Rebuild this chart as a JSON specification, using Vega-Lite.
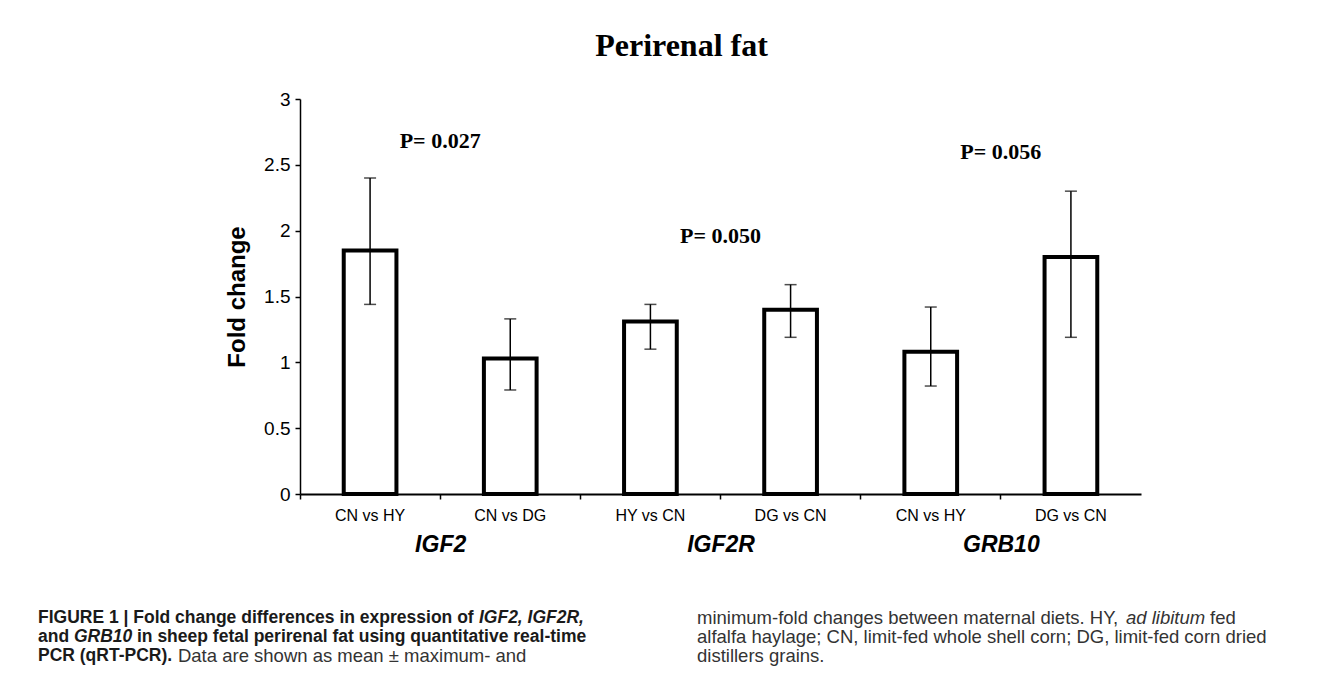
{
  "$schema": "https://vega.github.io/schema/vega-lite/v6.json",
  "autosize": {"type": "none"},
  "width": 841,
  "height": 395,
  "padding": {"left": 300, "top": 99, "right": 203, "bottom": 180},
  "background": "white",
  "config": {"view": {"stroke": null}, "font": "Liberation Sans"},
  "title": {
    "text": "Perirenal fat",
    "font": "Liberation Serif",
    "fontSize": 32,
    "fontWeight": "bold",
    "color": "black",
    "anchor": "middle",
    "frame": "group",
    "dx": -39,
    "baseline": "alphabetic",
    "offset": 2
  },
  "datasets": {
    "bars": [
      {"key": "IGF2: CN vs HY", "gene": "IGF2", "comparison": "CN vs HY", "value": 1.85, "lo": 1.44, "hi": 2.40},
      {"key": "IGF2: CN vs DG", "gene": "IGF2", "comparison": "CN vs DG", "value": 1.03, "lo": 0.79, "hi": 1.33},
      {"key": "IGF2R: HY vs CN", "gene": "IGF2R", "comparison": "HY vs CN", "value": 1.31, "lo": 1.10, "hi": 1.44},
      {"key": "IGF2R: DG vs CN", "gene": "IGF2R", "comparison": "DG vs CN", "value": 1.40, "lo": 1.19, "hi": 1.59},
      {"key": "GRB10: CN vs HY", "gene": "GRB10", "comparison": "CN vs HY", "value": 1.08, "lo": 0.82, "hi": 1.42},
      {"key": "GRB10: DG vs CN", "gene": "GRB10", "comparison": "DG vs CN", "value": 1.80, "lo": 1.19, "hi": 2.30}
    ],
    "pvals": [
      {"gene": "IGF2", "label": "P= 0.027", "labelY": 2.68},
      {"gene": "IGF2R", "label": "P= 0.050", "labelY": 1.96},
      {"gene": "GRB10", "label": "P= 0.056", "labelY": 2.60}
    ],
    "caption": [
      {"part": "L1a", "col": 0, "line": 1, "text": "FIGURE 1 | Fold change differences in expression of"},
      {"part": "L1b", "col": 0, "line": 1, "text": "IGF2, IGF2R,"},
      {"part": "L2a", "col": 0, "line": 2, "text": "and"},
      {"part": "L2b", "col": 0, "line": 2, "text": "GRB10"},
      {"part": "L2c", "col": 0, "line": 2, "text": "in sheep fetal perirenal fat using quantitative real-time"},
      {"part": "L3a", "col": 0, "line": 3, "text": "PCR (qRT-PCR)."},
      {"part": "L3b", "col": 0, "line": 3, "text": "Data are shown as mean ± maximum- and"},
      {"part": "R1a", "col": 1, "line": 1, "text": "minimum-fold changes between maternal diets. HY,"},
      {"part": "R1b", "col": 1, "line": 1, "text": "ad libitum"},
      {"part": "R1c", "col": 1, "line": 1, "text": "fed"},
      {"part": "R2", "col": 1, "line": 2, "text": "alfalfa haylage; CN, limit-fed whole shell corn; DG, limit-fed corn dried"},
      {"part": "R3", "col": 1, "line": 3, "text": "distillers grains."}
    ]
  },
  "layer": [
    {
      "data": {"name": "bars"},
      "encoding": {
        "x": {
          "field": "key",
          "type": "nominal",
          "sort": null,
          "scale": {"paddingInner": 0, "paddingOuter": 0},
          "axis": {
            "title": null,
            "labelExpr": "split(datum.label, ': ')[1]",
            "labelAngle": 0,
            "bandPosition": 0,
            "domainColor": "black",
            "domainWidth": 2,
            "tickColor": "black",
            "tickWidth": 1.5,
            "tickSize": 5,
            "labelFont": "Liberation Sans",
            "labelFontSize": 16,
            "labelColor": "black",
            "labelPadding": 8
          }
        }
      },
      "layer": [
        {
          "mark": {"type": "bar", "fill": "white", "stroke": "black", "strokeWidth": 4, "width": {"band": 0.376}},
          "encoding": {
            "y": {
              "field": "value",
              "type": "quantitative",
              "scale": {"domain": [0, 3], "nice": false},
              "axis": {
                "values": [0, 0.5, 1, 1.5, 2, 2.5, 3],
                "format": "~g",
                "grid": false,
                "labelFlush": false,
                "domainColor": "black",
                "domainWidth": 1.5,
                "tickColor": "black",
                "tickWidth": 1.5,
                "tickSize": 5,
                "labelFont": "Liberation Sans",
                "labelFontSize": 19,
                "labelColor": "black",
                "labelPadding": 5,
                "title": "Fold change",
                "titleFont": "Liberation Sans",
                "titleFontSize": 24,
                "titleFontWeight": "bold",
                "titleColor": "black",
                "titlePadding": 14
              }
            }
          }
        },
        {
          "mark": {"type": "rule", "color": "black", "strokeWidth": 1.5},
          "encoding": {
            "y": {"field": "lo", "type": "quantitative"},
            "y2": {"field": "hi"}
          }
        },
        {
          "mark": {"type": "tick", "orient": "horizontal", "color": "black", "size": 12, "thickness": 1.5},
          "encoding": {"y": {"field": "hi", "type": "quantitative"}}
        },
        {
          "mark": {"type": "tick", "orient": "horizontal", "color": "black", "size": 12, "thickness": 1.5},
          "encoding": {"y": {"field": "lo", "type": "quantitative"}}
        }
      ]
    },
    {
      "data": {"name": "pvals"},
      "mark": {"type": "text", "font": "Liberation Serif", "fontSize": 22, "fontWeight": "bold", "color": "black", "align": "center", "baseline": "middle"},
      "encoding": {
        "x": {
          "field": "gene",
          "type": "nominal",
          "sort": ["IGF2", "IGF2R", "GRB10"],
          "scale": {"paddingInner": 0, "paddingOuter": 0},
          "axis": {
            "orient": "bottom",
            "title": null,
            "offset": 39,
            "domain": false,
            "ticks": false,
            "tickSize": 0,
            "labelAngle": 0,
            "labelPadding": 0,
            "labelFont": "Liberation Sans",
            "labelFontSize": 23,
            "labelFontWeight": "bold",
            "labelFontStyle": "italic",
            "labelColor": "black"
          }
        },
        "y": {"field": "labelY", "type": "quantitative", "scale": {"domain": [0, 3], "nice": false}, "axis": null},
        "text": {"field": "label"}
      }
    },
    {
      "data": {"name": "caption"},
      "encoding": {
        "x": {"field": "col", "type": "quantitative", "scale": {"domain": [0.3976, 1.6737], "nice": false, "zero": false}, "axis": null},
        "y": {"field": "line", "type": "quantitative", "scale": {"domain": [-26.316, -5.527], "reverse": true, "nice": false, "zero": false}, "axis": null},
        "text": {"field": "text"}
      },
      "layer": [
        {
          "transform": [{"filter": "indexof(['L1a','L2a','L3a'], datum.part) >= 0"}],
          "mark": {"type": "text", "align": "left", "baseline": "middle", "font": "Liberation Sans", "fontSize": 17.5, "fontWeight": "bold", "color": "#1a1a1a"}
        },
        {
          "transform": [{"filter": "datum.part == 'L1b'"}],
          "mark": {"type": "text", "align": "left", "baseline": "middle", "font": "Liberation Sans", "fontSize": 17.5, "fontWeight": "bold", "fontStyle": "italic", "color": "#1a1a1a", "dx": 441}
        },
        {
          "transform": [{"filter": "datum.part == 'L2b'"}],
          "mark": {"type": "text", "align": "left", "baseline": "middle", "font": "Liberation Sans", "fontSize": 17.5, "fontWeight": "bold", "fontStyle": "italic", "color": "#1a1a1a", "dx": 36}
        },
        {
          "transform": [{"filter": "datum.part == 'L2c'"}],
          "mark": {"type": "text", "align": "left", "baseline": "middle", "font": "Liberation Sans", "fontSize": 17.5, "fontWeight": "bold", "color": "#1a1a1a", "dx": 99}
        },
        {
          "transform": [{"filter": "datum.part == 'L3b'"}],
          "mark": {"type": "text", "align": "left", "baseline": "middle", "font": "Liberation Sans", "fontSize": 18.5, "color": "#333333", "dx": 140}
        },
        {
          "transform": [{"filter": "indexof(['R1a','R2','R3'], datum.part) >= 0"}],
          "mark": {"type": "text", "align": "left", "baseline": "middle", "font": "Liberation Sans", "fontSize": 18.5, "color": "#333333"}
        },
        {
          "transform": [{"filter": "datum.part == 'R1b'"}],
          "mark": {"type": "text", "align": "left", "baseline": "middle", "font": "Liberation Sans", "fontSize": 18.5, "fontStyle": "italic", "color": "#333333", "dx": 429}
        },
        {
          "transform": [{"filter": "datum.part == 'R1c'"}],
          "mark": {"type": "text", "align": "left", "baseline": "middle", "font": "Liberation Sans", "fontSize": 18.5, "color": "#333333", "dx": 513}
        }
      ]
    }
  ],
  "resolve": {
    "scale": {"x": "independent", "y": "independent"},
    "axis": {"x": "independent", "y": "independent"}
  }
}
